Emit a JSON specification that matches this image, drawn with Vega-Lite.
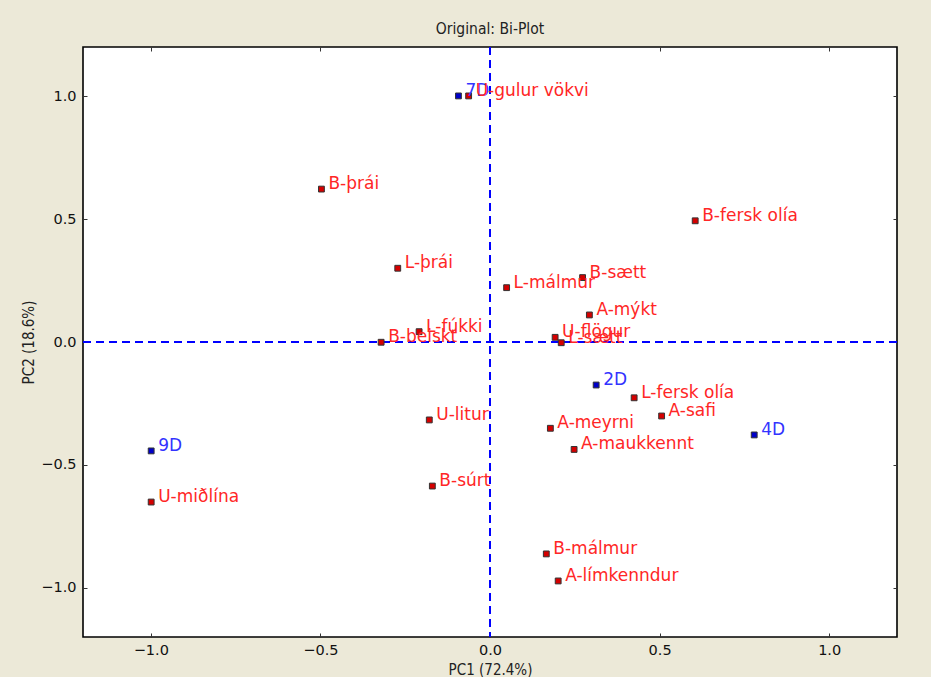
{
  "$schema": "https://vega.github.io/schema/vega-lite/v6.json",
  "width": 814,
  "height": 590,
  "autosize": "none",
  "padding": {"left": 83, "top": 47, "right": 34, "bottom": 40},
  "background": "#ece9d8",
  "title": {
    "text": "Original: Bi-Plot",
    "font": "Liberation Sans Narrow, DejaVu Sans Condensed",
    "fontSize": 15.5,
    "fontWeight": "normal",
    "color": "#222",
    "anchor": "middle",
    "frame": "group",
    "baseline": "alphabetic",
    "offset": -3
  },
  "config": {
    "view": {"fill": "white", "stroke": "black", "strokeWidth": 1.6},
    "axis": {
      "grid": false,
      "domain": false,
      "tickColor": "#333",
      "tickSize": -4,
      "tickWidth": 1,
      "labelFont": "DejaVu Sans",
      "labelFontSize": 14.5,
      "labelColor": "#111",
      "titleFont": "Liberation Sans Narrow, DejaVu Sans Condensed",
      "titleFontSize": 15,
      "titleFontWeight": "normal",
      "titleColor": "#222"
    }
  },
  "datasets": {
    "pts": [
      {"x": -0.093, "y": 1.001, "label": "7D", "kind": "sample"},
      {"x": 0.313, "y": -0.175, "label": "2D", "kind": "sample"},
      {"x": 0.779, "y": -0.378, "label": "4D", "kind": "sample"},
      {"x": -0.999, "y": -0.443, "label": "9D", "kind": "sample"},
      {"x": -0.063, "y": 1.001, "label": "U-gulur vökvi", "kind": "variable"},
      {"x": -0.497, "y": 0.622, "label": "B-þrái", "kind": "variable"},
      {"x": 0.605, "y": 0.493, "label": "B-fersk olía", "kind": "variable"},
      {"x": -0.272, "y": 0.300, "label": "L-þrái", "kind": "variable"},
      {"x": 0.049, "y": 0.221, "label": "L-málmur", "kind": "variable"},
      {"x": 0.273, "y": 0.262, "label": "B-sætt", "kind": "variable"},
      {"x": 0.293, "y": 0.110, "label": "A-mýkt", "kind": "variable"},
      {"x": 0.192, "y": 0.019, "label": "U-flögur", "kind": "variable"},
      {"x": 0.210, "y": -0.003, "label": "L-sætt", "kind": "variable"},
      {"x": -0.209, "y": 0.042, "label": "L-fúkki", "kind": "variable"},
      {"x": -0.321, "y": -0.001, "label": "B-beiskt", "kind": "variable"},
      {"x": 0.425, "y": -0.227, "label": "L-fersk olía", "kind": "variable"},
      {"x": 0.506, "y": -0.301, "label": "A-safi", "kind": "variable"},
      {"x": -0.179, "y": -0.317, "label": "U-litur", "kind": "variable"},
      {"x": 0.178, "y": -0.351, "label": "A-meyrni", "kind": "variable"},
      {"x": 0.248, "y": -0.437, "label": "A-maukkennt", "kind": "variable"},
      {"x": -0.999, "y": -0.651, "label": "U-miðlína", "kind": "variable"},
      {"x": -0.170, "y": -0.586, "label": "B-súrt", "kind": "variable"},
      {"x": 0.166, "y": -0.862, "label": "B-málmur", "kind": "variable"},
      {"x": 0.201, "y": -0.972, "label": "A-límkenndur", "kind": "variable"}
    ]
  },
  "data": {"name": "pts"},
  "resolve": {"axis": {"x": "independent", "y": "independent"}},
  "layer": [
    {
      "mark": {"type": "rule", "color": "#0000ff", "strokeWidth": 1.5, "strokeDash": [8, 5]},
      "encoding": {
        "x": {"datum": 0, "type": "quantitative", "scale": {"domain": [-1.2, 1.2], "nice": false, "zero": false}, "axis": null}
      }
    },
    {
      "mark": {"type": "rule", "color": "#0000ff", "strokeWidth": 1.5, "strokeDash": [8, 5]},
      "encoding": {
        "y": {"datum": 0, "type": "quantitative", "scale": {"domain": [-1.2, 1.2], "nice": false, "zero": false}, "axis": null}
      }
    },
    {
      "mark": {"type": "point", "shape": "square", "size": 34, "filled": true, "opacity": 1, "stroke": "#333333", "strokeWidth": 1},
      "encoding": {
        "x": {
          "field": "x", "type": "quantitative",
          "scale": {"domain": [-1.2, 1.2], "nice": false, "zero": false},
          "axis": {"orient": "bottom", "values": [-1, -0.5, 0, 0.5, 1], "format": ".1f", "labelPadding": 10, "title": "PC1 (72.4%)", "titleY": 37, "titleBaseline": "alphabetic"}
        },
        "y": {
          "field": "y", "type": "quantitative",
          "scale": {"domain": [-1.2, 1.2], "nice": false, "zero": false},
          "axis": {"orient": "left", "values": [-1, -0.5, 0, 0.5, 1], "format": ".1f", "labelPadding": 11, "title": "PC2 (18.6%)", "titleX": -55, "titleY": 295, "titleAngle": 270, "titleBaseline": "middle", "titleAlign": "center"}
        },
        "fill": {"condition": {"test": "datum.kind === 'sample'", "value": "#0000c8"}, "value": "#d40000"}
      }
    },
    {
      "mark": {"type": "text", "align": "left", "baseline": "alphabetic", "dx": 7, "dy": 0, "font": "DejaVu Sans", "fontSize": 17},
      "encoding": {
        "x": {"field": "x", "type": "quantitative", "axis": {"orient": "top", "values": [-1, -0.5, 0, 0.5, 1], "labels": false, "title": null}},
        "y": {"field": "y", "type": "quantitative", "axis": {"orient": "right", "values": [-1, -0.5, 0, 0.5, 1], "labels": false, "title": null}},
        "text": {"field": "label"},
        "color": {"condition": {"test": "datum.kind === 'sample'", "value": "#3333ff"}, "value": "#ff2626"}
      }
    }
  ]
}
